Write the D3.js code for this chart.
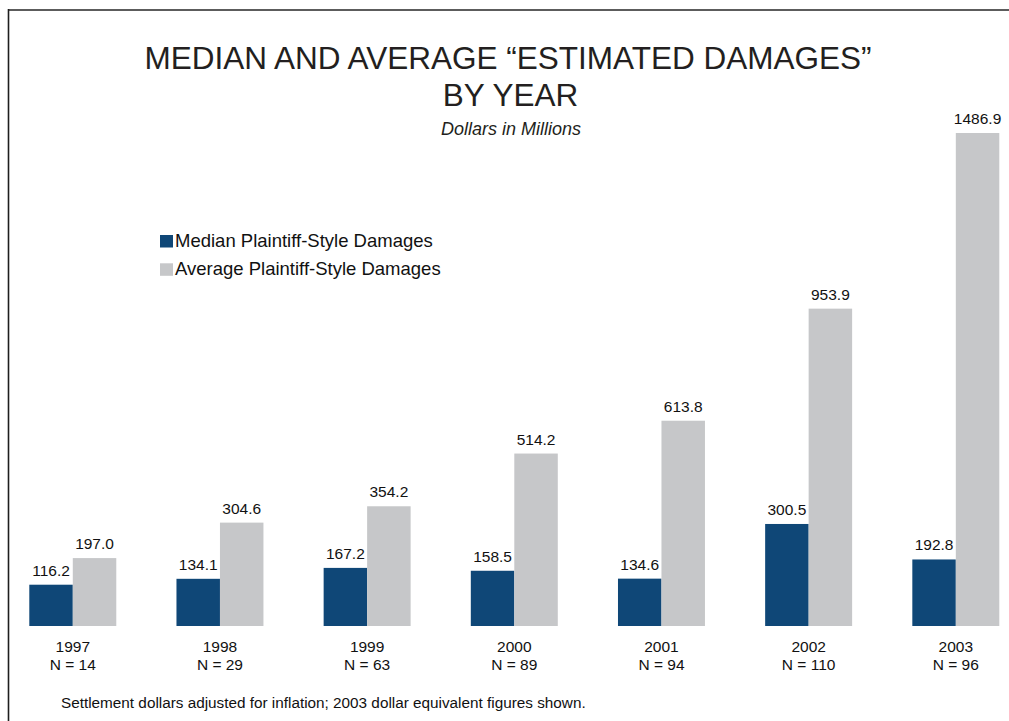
<!DOCTYPE html>
<html>
<head>
<meta charset="utf-8">
<script src="https://cdn.jsdelivr.net/npm/d3@7"></script>
<style>
  html, body { margin: 0; padding: 0; background: #fff; }
  svg { display: block; font-family: "Liberation Sans", Arial, sans-serif; }
</style>
</head>
<body>
<svg id="chart" width="1009" height="721"></svg>
<script>
// Settlement damages by year, in millions of 2003 dollars
const years = ["1997", "1998", "1999", "2000", "2001", "2002", "2003"];
const sampleSizes = [14, 29, 63, 89, 94, 110, 96];
const medianDamages = [116.2, 134.1, 167.2, 158.5, 134.6, 300.5, 192.8];
const averageDamages = [197.0, 304.6, 354.2, 514.2, 613.8, 953.9, 1486.9];

const seriesKeys = ["median", "average"];
const seriesNames = ["Median Plaintiff-Style Damages", "Average Plaintiff-Style Damages"];
const seriesColors = ["#0f4777", "#c6c7c9"];

const rows = years.map((yr, i) => ({
  year: yr,
  n: sampleSizes[i],
  median: medianDamages[i],
  average: averageDamages[i]
}));

const svg = d3.select("#chart");
const W = 1009, H = 721;

svg.append("rect").attr("width", W).attr("height", H).attr("fill", "#fff");

// Frame: top rule and left rule
svg.append("line")
  .attr("x1", 8).attr("x2", W).attr("y1", 10).attr("y2", 10)
  .attr("stroke", "#5c5c5c").attr("stroke-width", 2);
svg.append("line")
  .attr("x1", 8.5).attr("x2", 8.5).attr("y1", 9).attr("y2", H)
  .attr("stroke", "#1e1e1e").attr("stroke-width", 1.6);

// Titles
svg.append("text")
  .attr("x", 508).attr("y", 68.5)
  .attr("text-anchor", "middle")
  .attr("font-size", 31.5).attr("fill", "#231f20")
  .text("MEDIAN AND AVERAGE \u201CESTIMATED DAMAGES\u201D");
svg.append("text")
  .attr("x", 510.5).attr("y", 106)
  .attr("text-anchor", "middle")
  .attr("font-size", 31.5).attr("fill", "#231f20")
  .text("BY YEAR");
svg.append("text")
  .attr("x", 511).attr("y", 135)
  .attr("text-anchor", "middle")
  .attr("font-size", 18).attr("font-style", "italic").attr("fill", "#231f20")
  .text("Dollars in Millions");

// Scales
const x0 = d3.scaleBand().domain(years).range([29.3, 999.3]).paddingInner(0.409).paddingOuter(0);
const x1 = d3.scaleBand().domain(seriesKeys).range([0, x0.bandwidth()]).padding(0);
const y = d3.scaleLinear().domain([0, d3.max(averageDamages)]).range([623, 133]);
const color = d3.scaleOrdinal().domain(seriesKeys).range(seriesColors);
const baseDrop = 3; // bars sit slightly below the zero line
const fmt = d3.format(".1f");

const groups = svg.append("g").selectAll("g")
  .data(rows).join("g")
  .attr("transform", d => `translate(${x0(d.year)},0)`);

groups.selectAll("rect")
  .data(d => seriesKeys.map(k => ({ key: k, value: d[k] })))
  .join("rect")
  .attr("x", d => x1(d.key))
  .attr("y", d => y(d.value))
  .attr("width", x1.bandwidth())
  .attr("height", d => y(0) + baseDrop - y(d.value))
  .attr("fill", d => color(d.key));

groups.selectAll("text.val")
  .data(d => seriesKeys.map(k => ({ key: k, value: d[k] })))
  .join("text")
  .attr("class", "val")
  .attr("x", d => x1(d.key) + x1.bandwidth() / 2)
  .attr("y", d => y(d.value) - 9)
  .attr("text-anchor", "middle")
  .attr("font-size", 15.5).attr("fill", "#111")
  .text(d => fmt(d.value));

// Category labels: year and sample size
const xAxis = svg.append("g");
xAxis.selectAll("text.yr")
  .data(rows).join("text")
  .attr("class", "yr")
  .attr("x", d => x0(d.year) + x0.bandwidth() / 2)
  .attr("y", 651.5)
  .attr("text-anchor", "middle")
  .attr("font-size", 15.5).attr("fill", "#111")
  .text(d => d.year);
xAxis.selectAll("text.n")
  .data(rows).join("text")
  .attr("class", "n")
  .attr("x", d => x0(d.year) + x0.bandwidth() / 2)
  .attr("y", 669.5)
  .attr("text-anchor", "middle")
  .attr("font-size", 15.5).attr("fill", "#111")
  .text(d => `N = ${d.n}`);

// Legend
const legend = svg.append("g").selectAll("g")
  .data(seriesKeys).join("g")
  .attr("transform", (d, i) => `translate(160,${235 + i * 28.3})`);
legend.append("rect")
  .attr("width", 13).attr("height", 12.5)
  .attr("fill", d => color(d));
legend.append("text")
  .attr("x", 15).attr("y", 11.8)
  .attr("font-size", 18.5).attr("fill", "#111")
  .text((d, i) => seriesNames[i]);

// Footnote
svg.append("text")
  .attr("x", 61).attr("y", 708)
  .attr("font-size", 15.3).attr("fill", "#111")
  .text("Settlement dollars adjusted for inflation; 2003 dollar equivalent figures shown.");
</script>
</body>
</html>
